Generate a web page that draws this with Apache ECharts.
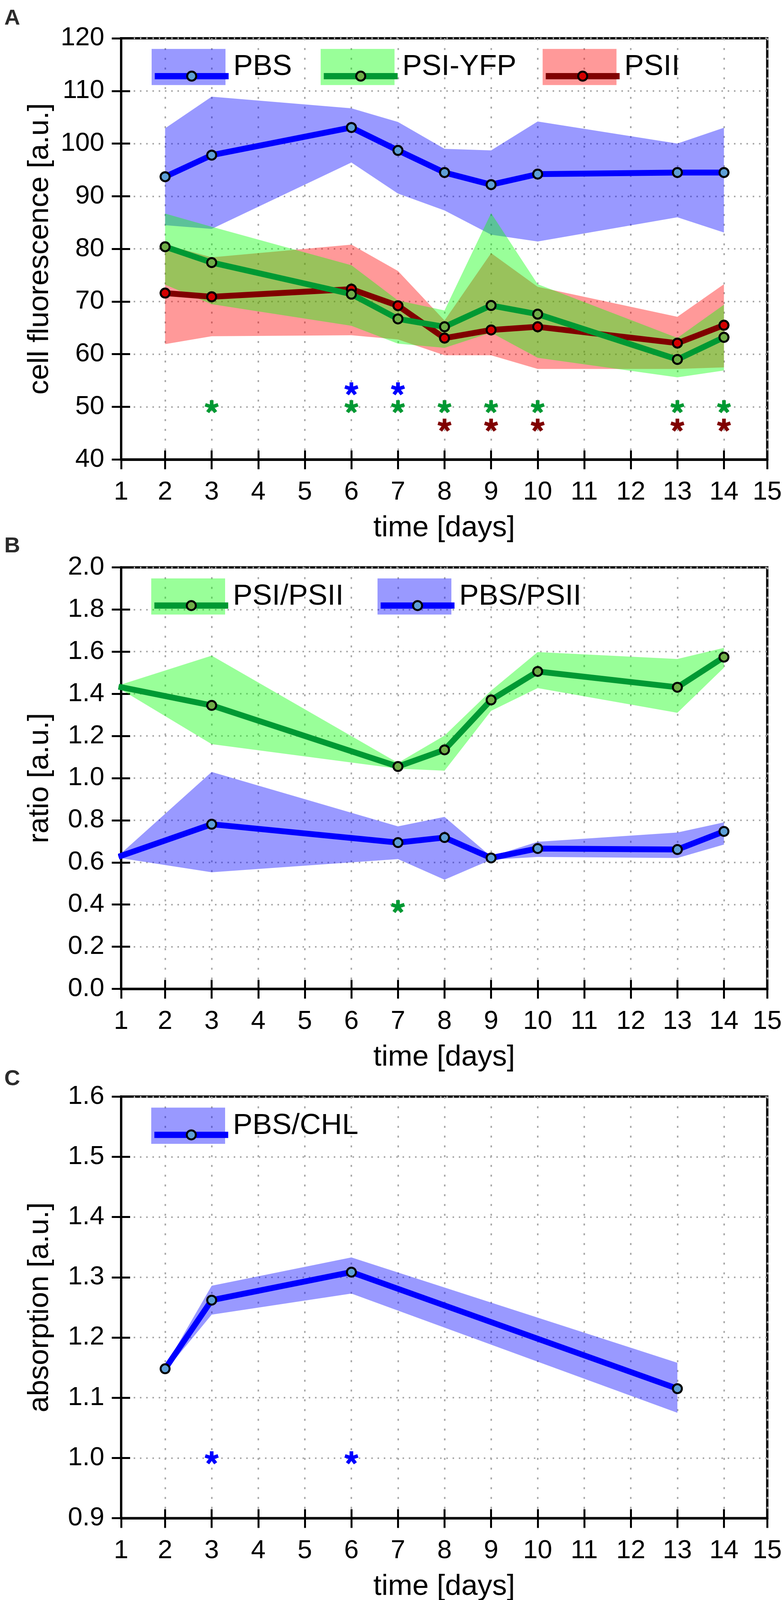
<!DOCTYPE html>
<html><head><meta charset="utf-8">
<script src="https://cdn.jsdelivr.net/npm/echarts@6/dist/echarts.min.js"></script>
<style>html,body{margin:0;padding:0;background:#fff;overflow:hidden}#c{width:100vw;height:100vh}</style>
</head><body><div id="c"></div>
<script>
// ---------- Panel A data ----------
const daysA = [2, 3, 6, 7, 8, 9, 10, 13, 14];
const pbsMean = [93.7, 97.8, 103.05, 98.7, 94.5, 92.2, 94.2, 94.5, 94.5];
const pbsUp   = [102.9, 108.9, 106.7, 104.1, 99.0, 98.7, 104.2, 100.0, 103.0];
const pbsLo   = [84.5, 83.8, 96.4, 90.5, 87.3, 82.7, 81.4, 86.0, 83.1];
const psiMean = [80.4, 77.4, 71.4, 66.7, 65.2, 69.25, 67.6, 59.0, 63.2];
const psiUp   = [86.7, 84.2, 76.9, 70.2, 68.3, 86.8, 73.3, 63.1, 69.4];
const psiLo   = [73.2, 69.5, 65.4, 62.0, 61.2, 64.1, 59.3, 55.6, 56.9];
const psiiMean = [71.6, 70.9, 72.35, 69.2, 63.05, 64.6, 65.2, 62.1, 65.5];
const psiiUp   = [80.8, 78.4, 80.8, 75.8, 66.4, 79.2, 72.8, 67.1, 73.3];
const psiiLo   = [61.9, 63.4, 63.6, 62.8, 59.8, 59.8, 57.2, 57.2, 57.5];
const sigA_pbs  = {days: [6, 7], value: 53.4};
const sigA_psi  = {days: [3, 6, 7, 8, 9, 10, 13, 14], value: 50};
const sigA_psii = {days: [8, 9, 10, 13, 14], value: 46.5};

// ---------- Panel B data ----------
const daysB = [1, 3, 7, 8, 9, 10, 13, 14];
const r1Mean = [1.434, 1.345, 1.055, 1.134, 1.371, 1.506, 1.431, 1.574];
const r1Up   = [1.440, 1.581, 1.072, 1.202, 1.415, 1.598, 1.565, 1.618];
const r1Lo   = [1.427, 1.161, 1.045, 1.035, 1.319, 1.427, 1.310, 1.524];
const r2Mean = [0.627, 0.781, 0.694, 0.718, 0.621, 0.666, 0.661, 0.747];
const r2Up   = [0.632, 1.029, 0.771, 0.816, 0.628, 0.698, 0.742, 0.790];
const r2Lo   = [0.622, 0.553, 0.616, 0.518, 0.613, 0.626, 0.621, 0.685];
const sigB_r1 = {days: [7], value: 0.39};

// ---------- Panel C data ----------
const daysC = [2, 3, 6, 13];
const chlMean = [1.148, 1.262, 1.3085, 1.115];
const chlUp   = [1.152, 1.286, 1.333, 1.158];
const chlLo   = [1.144, 1.238, 1.273, 1.075];
const sigC = {days: [3, 6], value: 1.0};

// ---------- axis ticks ----------
// the drawn box spans slightly less than days 1..15; its edges are labelled 1 and 15
const xTicks = {boxMin: 1.056, boxMax: 14.93, step: 1};
const yTicksA = {min: 40, max: 120, interval: 10, dec: 0};
const yTicksB = {min: 0, max: 2, interval: 0.2, dec: 1};
const yTicksC = {min: 0.9, max: 1.6, interval: 0.1, dec: 1};

const W = window.innerWidth || 2001, H = window.innerHeight || 4202;
const SX = W / 2001, SY = H / 4202;
const X = v => v * SX, Y = v => v * SY;

const FONT = "'Liberation Sans', Arial, Helvetica, sans-serif";
const BLUE = '#0000ff', GREEN = '#009933', DRED = '#800000';
const BAND_B = 'rgba(0,0,255,0.4)', BAND_G = 'rgba(0,255,0,0.4)', BAND_R = 'rgba(255,0,0,0.4)';
const MK_B = '#5e9fd6', MK_G = '#70ad47', MK_R = '#d40000';

// 5-armed asterisk path
function asteriskPath() {
  const w = 0.27, L = 1;
  let d = '';
  for (let k = 0; k < 5; k++) {
    const a = -Math.PI / 2 + k * 2 * Math.PI / 5;
    const cx = Math.cos(a), sy = Math.sin(a), px = -sy, py = cx;
    const p = [[px * w, py * w], [px * w + cx * L, py * w + sy * L], [-px * w + cx * L, -py * w + sy * L], [-px * w, -py * w]];
    d += 'M' + p.map(q => q[0].toFixed(4) + ' ' + q[1].toFixed(4)).join(' L') + ' Z ';
  }
  d += 'M-0.001 0.999 L0.001 0.999 L0.001 1 L-0.001 1 Z';
  return 'path://' + d;
}
const AST = asteriskPath();

const grids = [
  {left: X(310), width: X(1653.3), top: Y(100.5), height: Y(1106.2)},
  {left: X(310), width: X(1653.3), top: Y(1490), height: Y(1107)},
  {left: X(310), width: X(1653.3), top: Y(2880), height: Y(1107)}
];

const xAxes = [], yAxes = [];
function addAxes(g, yt, yname) {
  const xBase = {
    type: 'value', gridIndex: g, position: 'bottom', min: xTicks.boxMin, max: xTicks.boxMax,
    minInterval: xTicks.step, maxInterval: xTicks.step, splitNumber: 14
  };
  xAxes.push(Object.assign({}, xBase, {
    name: 'time [days]', nameLocation: 'middle', nameGap: Y(142),
    nameTextStyle: {fontSize: 75, color: '#000', fontFamily: FONT},
    axisLine: {show: true, onZero: false, lineStyle: {color: '#000', width: 6}},
    axisTick: {show: true, inside: false, length: 25, lineStyle: {color: '#000', width: 5}},
    axisLabel: {fontSize: 67, color: '#000', fontFamily: FONT, margin: Y(52), showMinLabel: true, showMaxLabel: true,
      formatter: v => String(Math.round(v))},
    splitLine: {show: true, lineStyle: {color: '#aaaaaa', width: 4, type: [5, 20]}}
  }));
  xAxes.push(Object.assign({}, xBase, {
    axisLine: {show: false}, axisTick: {show: true, inside: true, length: 23, lineStyle: {color: '#000', width: 5}},
    axisLabel: {show: false}, splitLine: {show: false}
  }));
  yAxes.push({
    type: 'value', gridIndex: g, position: 'left', min: yt.min, max: yt.max, interval: yt.interval,
    name: yname, nameLocation: 'middle', nameGap: 170,
    nameTextStyle: {fontSize: 75, color: '#000', fontFamily: FONT},
    axisLine: {show: true, onZero: false, lineStyle: {color: '#000', width: 6}},
    axisTick: {show: true, inside: false, length: 24, lineStyle: {color: '#000', width: 5}},
    axisLabel: {fontSize: 67, color: '#000', fontFamily: FONT, margin: 43, showMinLabel: true, showMaxLabel: true,
      formatter: v => v.toFixed(yt.dec)},
    splitLine: {show: true, lineStyle: {color: '#aaaaaa', width: 4, type: [4, 12]}}
  });
  yAxes.push({
    type: 'value', gridIndex: g, position: 'left', min: yt.min, max: yt.max, interval: yt.interval,
    axisLine: {show: false}, axisTick: {show: true, inside: true, length: 23, lineStyle: {color: '#000', width: 5}},
    axisLabel: {show: false}, splitLine: {show: false}
  });
}
addAxes(0, yTicksA, 'cell fluorescence [a.u.]');
addAxes(1, yTicksB, 'ratio [a.u.]');
addAxes(2, yTicksC, 'absorption [a.u.]');

const series = [];
function band(name, g, xs, lo, hi, color) {
  series.push({
    type: 'custom', name: name, xAxisIndex: 2 * g, yAxisIndex: 2 * g, silent: true,
    data: xs.map((x, i) => [x, lo[i], hi[i]]),
    encode: {x: 0, y: [1, 2]},
    renderItem: function (params, api) {
      if (params.dataIndexInside !== 0) return null;
      const n = params.dataInsideLength;
      const up = [], dn = [];
      for (let i = 0; i < n; i++) {
        up.push(api.coord([api.value(0, i), api.value(2, i)]));
        dn.push(api.coord([api.value(0, i), api.value(1, i)]));
      }
      return {type: 'polygon', shape: {points: up.concat(dn.reverse())}, style: {fill: color}};
    }
  });
}
function line(name, g, xs, ys, color, mk) {
  series.push({
    type: 'line', name: name, xAxisIndex: 2 * g, yAxisIndex: 2 * g,
    data: xs.map((x, i) => [x, ys[i]]),
    symbol: 'circle', symbolSize: 23, showSymbol: true, showAllSymbol: true,
    lineStyle: {color: color, width: 15},
    itemStyle: {color: mk, borderColor: '#000', borderWidth: 5},
    emphasis: {disabled: true}, silent: true
  });
}
function markers(name, g, xs, ys, mk) {
  series.push({
    type: 'scatter', name: name, xAxisIndex: 2 * g, yAxisIndex: 2 * g,
    data: xs.map((x, i) => [x, ys[i]]),
    symbol: 'circle', symbolSize: 23,
    itemStyle: {color: mk, borderColor: '#000', borderWidth: 5, opacity: 1},
    emphasis: {disabled: true}, silent: true
  });
}
function stars(name, g, sig, color) {
  series.push({
    type: 'scatter', name: name, xAxisIndex: 2 * g, yAxisIndex: 2 * g,
    data: sig.days.map(d => [d, sig.value]),
    symbol: AST, symbolSize: [36, 35], symbolKeepAspect: true,
    itemStyle: {color: color, opacity: 1}, emphasis: {disabled: true}, silent: true
  });
}

// Panel A
band('PBS band', 0, daysA, pbsLo, pbsUp, BAND_B);
band('PSII band', 0, daysA, psiiLo, psiiUp, BAND_R);
band('PSI-YFP band', 0, daysA, psiLo, psiUp, BAND_G);
line('PBS', 0, daysA, pbsMean, BLUE, MK_B);
line('PSII', 0, daysA, psiiMean, DRED, MK_R);
line('PSI-YFP', 0, daysA, psiMean, GREEN, MK_G);
markers('PBS m', 0, daysA, pbsMean, MK_B);
markers('PSI-YFP m', 0, daysA, psiMean, MK_G);
markers('PSII m', 0, daysA, psiiMean, MK_R);
stars('PBS sig', 0, sigA_pbs, BLUE);
stars('PSI-YFP sig', 0, sigA_psi, GREEN);
stars('PSII sig', 0, sigA_psii, DRED);
// Panel B
band('PBS/PSII band', 1, daysB, r2Lo, r2Up, BAND_B);
band('PSI/PSII band', 1, daysB, r1Lo, r1Up, BAND_G);
line('PBS/PSII', 1, daysB, r2Mean, BLUE, MK_B);
line('PSI/PSII', 1, daysB, r1Mean, GREEN, MK_G);
stars('PSI/PSII sig', 1, sigB_r1, GREEN);
// Panel C
band('PBS/CHL band', 2, daysC, chlLo, chlUp, BAND_B);
line('PBS/CHL', 2, daysC, chlMean, BLUE, MK_B);
stars('PBS/CHL sig', 2, sigC, BLUE);

// Legend items: [name, band colour, icon left, icon top]
const legendItems = [
  ['PBS', BAND_B, 388, 128.5], ['PSI-YFP', BAND_G, 820.5, 128.5], ['PSII', BAND_R, 1388.5, 128.5],
  ['PSI/PSII', BAND_G, 387, 1519], ['PBS/PSII', BAND_B, 966, 1519],
  ['PBS/CHL', BAND_B, 387, 2909]
];
const legends = [];
legendItems.forEach(it => {
  legends.push({
    left: X(it[2]), top: Y(it[3]), orient: 'horizontal', padding: 0,
    itemWidth: X(189), itemHeight: Y(95), icon: 'rect', selectedMode: false, z: 3,
    itemStyle: {borderWidth: 0},
    data: [{name: it[0], icon: 'rect', itemStyle: {color: it[1], borderWidth: 0}}],
    textStyle: {fontSize: 75, color: '#000', fontFamily: FONT, padding: [0, 0, 0, 15]}
  });
  legends.push({
    left: X(it[2]), top: Y(it[3] + (95 - 29) / 2), orient: 'horizontal', padding: 0,
    itemWidth: X(189), itemHeight: 29, selectedMode: false, z: 4,
    lineStyle: {width: 16},
    itemStyle: {borderWidth: 5, borderColor: '#000'},
    data: [it[0]],
    textStyle: {fontSize: 75, color: 'rgba(0,0,0,0)', fontFamily: FONT, padding: [0, 0, 0, 15]}
  });
});

const titles = [['A', 20], ['B', 1406], ['C', 2805]].map(t => ({
  text: t[0], left: X(11), top: Y(t[1]), padding: 0,
  textStyle: {fontSize: 56, fontWeight: 'bold', color: '#2b2b2b', fontFamily: FONT}
}));

const chart = echarts.init(document.getElementById('c'), null, {renderer: 'canvas'});
chart.setOption({
  animation: false,
  backgroundColor: '#ffffff',
  title: titles,
  grid: grids.map(g => Object.assign({show: true, borderColor: '#000', borderWidth: 6, backgroundColor: 'transparent', outerBoundsMode: 'none', containLabel: false}, g)),
  xAxis: xAxes,
  yAxis: yAxes,
  legend: legends,
  series: series
});
</script></body></html>
